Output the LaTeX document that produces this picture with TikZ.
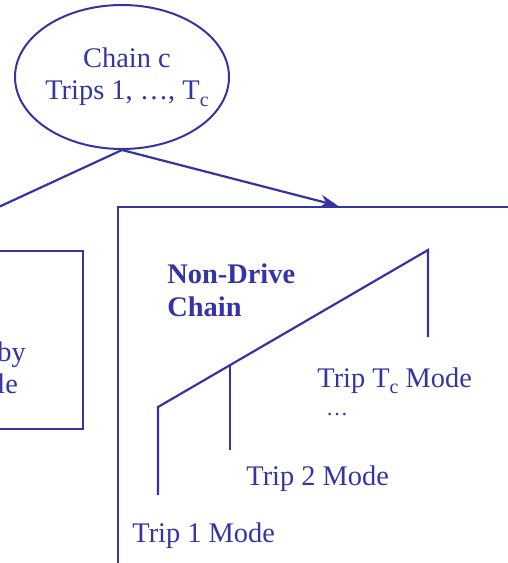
\documentclass[tikz,border=0pt]{standalone}
\usepackage{fontspec}
\setmainfont{Liberation Serif}
\usepackage{tikz}
\usetikzlibrary{positioning}
\usetikzlibrary{arrows.meta}
\usetikzlibrary{shapes.geometric}
\definecolor{chainblue}{RGB}{52, 52, 165}
\newcommand{\lowc}{\raisebox{-0.5ex}{\fontsize{10}{12}\selectfont c}}

\begin{document}
\begin{tikzpicture}[
  x=0.5pt, y=-0.5pt,
  every node/.style={text=chainblue, inner sep=0pt, font=\fontsize{14.2}{16}\selectfont},
  chainbox/.style={ellipse, draw=chainblue, line width=1pt, inner xsep=-5.7pt, minimum width=107pt, minimum height=72pt, align=center},
  modebox/.style={rectangle, draw=chainblue, line width=1.2pt},
  branch/.style={draw=chainblue, line width=1.1pt},
  arrow/.style={-{Stealth[length=9pt, width=6.5pt]}, draw=chainblue, line width=1.1pt}
]
\useasboundingbox (0,0) rectangle (508,563);
\clip (0,0) rectangle (508,563);

% Nodes
\node[chainbox] (chain) at (122,77) {\kern5pt Chain c\\\kern5pt Trips 1, …, T\lowc};
\node[modebox, minimum width=177pt, minimum height=89pt] (drive) at (-94,340) {};
\node[modebox, minimum width=220pt, minimum height=200pt] (nondrive) at (338,407) {};

\node[anchor=base west, align=left] (drivetxt) at (-3,393) {by\\le};
\node[anchor=base west, align=left, font=\fontsize{14.2}{16.5}\selectfont\bfseries] (ndlabel) at (167,316) {Non-Drive\\Chain};

% Arrows from the chain
\draw[branch] (chain.south) -- (drive.north);
\draw[arrow] (chain.south) -- (nondrive.north);

% Mode tree
\coordinate (low) at (158,407);
\coordinate (mid) at (230,365);
\coordinate (top) at (428,250);
\coordinate (end1) at (158,495);
\coordinate (end2) at (230,450);
\coordinate (endT) at (428,337);
\draw[branch] (end1) -- (low) -- (top) -- (endT);
\draw[branch] (mid) -- (end2);

\node[anchor=base west] (trip1) at (132,542) {Trip 1 Mode};
\node[anchor=base west] (trip2) at (246,485) {Trip 2 Mode};
\node[anchor=base west] (tripT) at (317,387) {Trip T\lowc\ Mode};
\node[anchor=base, font=\fontsize{11}{13}\selectfont] (dots) at (337,415) {…};

\end{tikzpicture}
\end{document}
